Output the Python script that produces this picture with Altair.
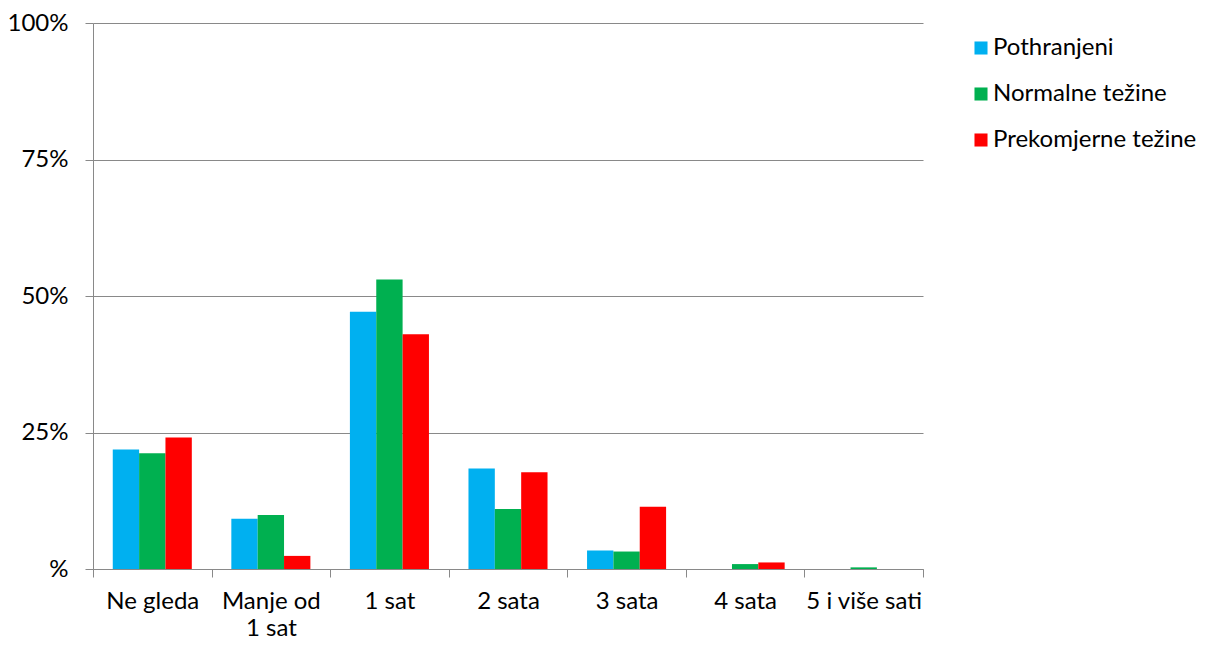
import altair as alt
import pandas as pd

categories = ["Ne gleda", "Manje od 1 sat", "1 sat", "2 sata", "3 sata", "4 sata", "5 i više sati"]
series = ["Pothranjeni", "Normalne težine", "Prekomjerne težine"]
pothranjeni = [0.219, 0.092, 0.471, 0.184, 0.034, 0.0, 0.0]
normalne = [0.212, 0.099, 0.530, 0.110, 0.032, 0.009, 0.003]
prekomjerne = [0.241, 0.024, 0.430, 0.177, 0.114, 0.012, 0.0]
colors = ["#00B0F0", "#00B050", "#FF0000"]

rows = []
for s, vals in zip(series, [pothranjeni, normalne, prekomjerne]):
    for c, v in zip(categories, vals):
        rows.append({"kategorija": c, "grupa": s, "udio": v})
df = pd.DataFrame(rows)

FONT = "Lato"
GRID = "#898989"
FS = 24

chart = alt.Chart(df).mark_bar().encode(
    x=alt.X("kategorija:N", sort=categories, title=None,
            scale=alt.Scale(paddingInner=0, paddingOuter=0),
            axis=alt.Axis(labelAngle=0, tickBand="extent", tickSize=8,
                          tickColor=GRID, domainColor=GRID, labelFontSize=FS,
                          labelFont=FONT, labelColor="#000000", labelPadding=12,
                          labelLineHeight=27, grid=False, labelLimit=200,
                          labelExpr="datum.label == 'Manje od 1 sat' ? ['Manje od', '1 sat'] : datum.label")),
    xOffset=alt.XOffset("grupa:N", sort=series,
                        scale=alt.Scale(paddingInner=0, paddingOuter=0.75)),
    y=alt.Y("udio:Q", title=None,
            scale=alt.Scale(domain=[0, 1], nice=False),
            axis=alt.Axis(values=[0, 0.25, 0.5, 0.75, 1], tickSize=8,
                          tickColor=GRID, domainColor=GRID, gridColor=GRID,
                          labelFontSize=FS, labelFont=FONT, labelColor="#000000",
                          labelPadding=17,
                          labelExpr="datum.value == 0 ? '%' : format(datum.value*100, 'd') + '%'")),
    color=alt.Color("grupa:N", sort=series, title=None,
                    scale=alt.Scale(domain=series, range=colors),
                    legend=alt.Legend(orient="none", legendX=876, legendY=13,
                                      symbolType="square", symbolSize=170,
                                      symbolStrokeWidth=0, labelFontSize=FS,
                                      labelFont=FONT, labelColor="#000000",
                                      labelOffset=0, rowPadding=22, labelLimit=400)),
).properties(
    width=830, height=546,
    autosize=alt.AutoSizeParams(type="none"),
    padding={"left": 85, "top": 15, "right": 275, "bottom": 70},
).configure_view(stroke=None).configure_axis(domainWidth=1, tickWidth=1, gridWidth=1)

chart.save("out.html", embed_options={"renderer": "svg", "actions": False})
